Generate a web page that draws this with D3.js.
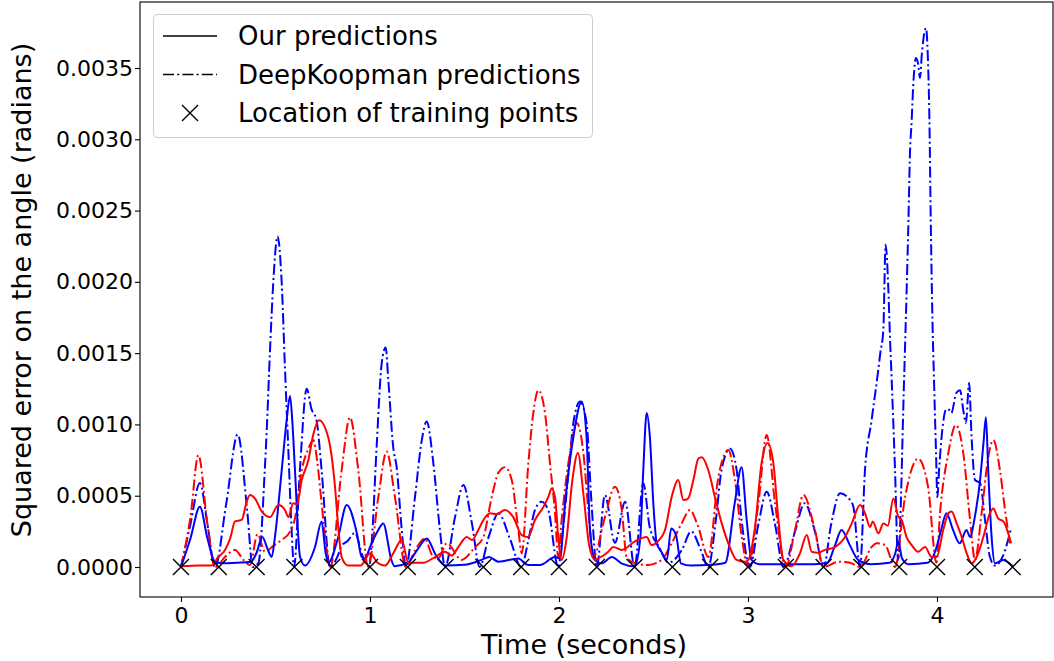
<!DOCTYPE html>
<html>
<head>
<meta charset="utf-8">
<script src="https://cdn.jsdelivr.net/npm/d3@7/dist/d3.min.js"></script>
<style>
  html, body { margin: 0; padding: 0; background: #fff; }
  svg { display: block; font-family: "DejaVu Sans", sans-serif; }
</style>
</head>
<body>
<svg id="chart" width="1054" height="661"></svg>
<script>
// Squared angle error over time, values in units of 1e-4 rad^2.
const VALUE_UNIT = 1e-4;

// Our predictions, blue run
const oursBlueT = [0,0.05,0.10,0.14,0.18,0.23,0.30,0.37,0.40,0.43,0.46,0.48,0.497,0.533,0.559,0.577,0.59,0.603,0.630,0.656,0.709,0.744,0.765,0.78,0.83,0.877,0.93,0.956,0.975,1.0,1.04,1.07,1.113,1.13,1.20,1.25,1.30,1.35,1.40,1.50,1.59,1.63,1.68,1.785,1.837,1.90,1.979,2.005,2.032,2.076,2.12,2.146,2.164,2.19,2.225,2.28,2.33,2.40,2.43,2.446,2.464,2.481,2.499,2.517,2.54,2.57,2.594,2.62,2.645,2.70,2.80,2.88,2.93,2.966,2.993,3.019,3.06,3.15,3.25,3.35,3.42,3.46,3.495,3.54,3.583,3.65,3.75,3.78,3.795,3.815,3.85,3.95,3.99,4.02,4.05,4.085,4.12,4.156,4.175,4.20,4.228,4.246,4.259,4.271,4.289,4.307,4.35,4.40];
const oursBlueV = [0,2.0,4.23,2.0,0.37,0.26,0.3,0.37,1.0,2.1,1.2,0.7,2.1,6.8,10.3,12.0,10.0,6.8,0.7,0.1,1.4,3.2,1.0,0.3,2.0,4.35,2.4,0.7,0.6,1.4,2.5,3.06,0.5,0.05,0.3,1.2,2.0,0.8,0.1,0.15,0.5,0.7,0.37,0.6,0.14,0.14,0.7,0.6,4.47,9.1,11.6,9.1,2.6,0.5,0.26,0.7,0.26,0.05,2.0,6.8,10.8,9.1,4.5,1.66,1.1,0.5,2.7,2.2,0.26,0.1,0.15,0.3,4.5,7.0,3.3,0.5,0.2,0.2,0.2,0.2,0.3,1.5,2.6,1.5,0.5,0.2,0.3,1.0,1.8,0.6,0.2,0.3,1.07,2.5,3.77,2.6,1.66,2.6,2.1,3.5,6.1,8.7,10.5,6.8,2.1,0.26,0.5,0.05];

// Our predictions, red run
const oursRedT = [0,0.10,0.16,0.197,0.233,0.26,0.286,0.321,0.348,0.365,0.392,0.427,0.471,0.515,0.55,0.568,0.594,0.614,0.639,0.674,0.70,0.730,0.779,0.815,0.832,0.85,0.885,0.95,1.0,1.04,1.08,1.123,1.168,1.203,1.28,1.344,1.397,1.432,1.467,1.512,1.54,1.573,1.60,1.635,1.67,1.714,1.758,1.803,1.836,1.873,1.917,1.943,1.961,1.979,1.996,2.014,2.04,2.07,2.10,2.13,2.16,2.19,2.208,2.261,2.287,2.332,2.402,2.464,2.49,2.53,2.561,2.596,2.631,2.658,2.683,2.711,2.737,2.755,2.79,2.825,2.861,2.896,2.94,2.984,3.002,3.037,3.072,3.104,3.134,3.161,3.187,3.231,3.275,3.311,3.337,3.37,3.407,3.46,3.513,3.549,3.593,3.619,3.646,3.66,3.69,3.716,3.74,3.769,3.796,3.813,3.839,3.866,3.90,3.937,3.972,3.998,4.033,4.06,4.077,4.104,4.131,4.157,4.184,4.21,4.245,4.28,4.298,4.324,4.351,4.377,4.392];
const oursRedV = [0.05,0.1,0.1,0.7,1.2,2.0,3.2,3.3,4.6,5.05,4.8,3.9,3.5,4.35,4.0,3.5,4.47,4.4,6.1,7.5,9.3,10.3,9.1,5.6,2.8,0.7,0.1,0.1,0.96,0.3,0.1,0.96,1.9,0.3,0.3,0.7,1.07,0.8,1.4,2.1,1.9,2.6,3.3,3.77,3.7,4.0,3.5,2.24,2.1,3.3,4.2,4.9,5.5,4.9,2.1,0.5,2.0,6.0,8.0,5.0,1.5,0.5,0.6,1.07,1.4,1.2,1.8,2.1,1.54,1.9,2.6,4.9,6.1,4.7,4.8,6.1,7.6,7.7,6.8,4.9,3.06,1.66,0.5,0.37,0.5,2.8,7.3,8.7,7.3,3.3,0.5,0.05,0.96,2.24,1.07,1.0,1.2,1.4,2.1,3.06,4.35,3.77,2.8,3.2,2.36,3.06,2.9,4.8,3.5,3.3,2.1,1.54,1.07,1.4,0.7,0.7,2.6,3.77,3.9,3.06,2.1,0.96,0.26,0.7,2.1,3.77,4.1,3.4,3.2,2.36,1.66];

// DeepKoopman predictions, blue run
const koopBlueT = [0,0.05,0.10,0.14,0.18,0.24,0.30,0.35,0.38,0.41,0.444,0.453,0.471,0.488,0.511,0.533,0.550,0.568,0.586,0.598,0.63,0.665,0.69,0.717,0.744,0.788,0.83,0.85,0.88,0.92,0.96,0.995,1.009,1.035,1.062,1.083,1.097,1.123,1.141,1.168,1.19,1.238,1.274,1.30,1.335,1.37,1.397,1.45,1.494,1.54,1.58,1.63,1.68,1.74,1.80,1.84,1.873,1.908,1.943,1.996,2.02,2.05,2.076,2.111,2.146,2.172,2.20,2.243,2.296,2.35,2.40,2.446,2.48,2.53,2.58,2.65,2.70,2.75,2.79,2.83,2.86,2.905,2.94,2.966,3.01,3.055,3.099,3.143,3.187,3.249,3.30,3.354,3.40,3.44,3.487,3.54,3.558,3.593,3.619,3.654,3.689,3.70,3.716,3.728,3.742,3.751,3.760,3.778,3.794,3.826,3.840,3.849,3.857,3.866,3.874,3.889,3.90,3.910,3.92,3.937,3.942,3.951,3.960,3.967,3.976,3.984,3.995,4.002,4.011,4.028,4.046,4.058,4.076,4.102,4.122,4.139,4.153,4.17,4.183,4.201,4.228,4.254,4.28,4.307,4.35,4.39];
const koopBlueV = [0,3.0,5.9,3.0,0,4.5,9.3,4.0,0,0.3,7.0,9.4,15.2,19.9,23.2,19.9,14.0,8.2,2.4,0,7.0,12.5,11.1,10.3,6.8,0,0.8,1.5,1.8,2.4,0.8,0,1.7,8.4,14.3,15.4,13.1,8.4,7.0,2.6,0,4.9,8.9,10.2,7.3,2.6,0,3.5,5.75,3.0,0,2.2,3.77,2.0,0,2.0,4.0,4.58,4.0,0,2.5,6.6,10.1,11.6,10.1,4.5,0,5.05,1.7,4.58,0,5.87,2.8,1.4,0.3,1.2,2.5,1.2,0,3.3,6.8,8.3,6.8,3.3,0,3.0,5.28,3.0,0,2.5,4.47,2.5,0,3.0,5.17,4.7,4.2,0,6.8,10.3,13.8,15.0,16.6,22.6,19.7,16.2,13.2,6.8,0.5,13.2,19.7,24.3,29.0,31.3,33.7,35.7,35.3,34.3,36.0,37.7,37.8,36.0,31.3,24.3,17.3,13.2,8.0,4.9,6.8,9.6,11.0,11.1,10.8,12.2,12.4,11.0,10.1,12.9,9.1,6.1,5.9,3.3,0.7,0.1,0.8,2.6];

// DeepKoopman predictions, red run
const koopRedT = [0,0.05,0.092,0.14,0.18,0.24,0.286,0.33,0.365,0.405,0.444,0.49,0.533,0.577,0.603,0.639,0.674,0.70,0.72,0.744,0.771,0.79,0.85,0.894,0.938,0.99,1.044,1.088,1.132,1.19,1.24,1.29,1.33,1.36,1.406,1.485,1.556,1.60,1.644,1.679,1.714,1.75,1.785,1.803,1.838,1.864,1.891,1.926,1.952,1.979,1.996,2.014,2.058,2.094,2.129,2.155,2.182,2.243,2.296,2.332,2.358,2.402,2.472,2.543,2.596,2.649,2.693,2.737,2.79,2.843,2.896,2.931,2.967,3.0,3.055,3.099,3.143,3.20,3.249,3.293,3.354,3.40,3.48,3.54,3.593,3.654,3.681,3.725,3.778,3.831,3.90,3.953,3.997,4.016,4.06,4.10,4.139,4.175,4.201,4.236,4.271,4.298,4.333,4.36,4.386];
const koopRedV = [0,3.5,7.85,3.0,0,0.8,1.2,0.5,0.14,2.3,1.07,1.5,1.9,2.48,3.4,6.8,8.3,8.9,7.5,4.47,1.2,0,6.8,10.5,6.8,0,4.9,8.1,4.9,0,1.2,2.0,0.8,0.6,1.66,0.5,1.4,2.1,4.9,6.6,7.0,6.1,2.6,0.96,7.3,10.8,12.4,10.8,7.3,3.8,0.7,3.3,8.0,10.1,8.0,4.0,0.7,3.5,5.63,4.0,0.7,0.26,0.14,0.5,1.66,3.06,4.0,2.8,0.7,6.3,8.2,6.1,2.1,0,4.47,9.26,4.47,0,2.6,5.05,2.6,0,0.37,0.3,0,1.4,1.66,1.54,0,4.9,7.6,5.6,0.3,3.77,8.0,9.96,8.0,3.3,0.5,3.77,7.7,8.9,6.8,4.0,1.66];

// Training sample times
const trainingT = [0,0.2,0.4,0.6,0.8,1.0,1.2,1.4,1.6,1.8,2.0,2.2,2.4,2.6,2.8,3.0,3.2,3.4,3.6,3.8,4.0,4.2,4.4];

const xTicks = [0, 1, 2, 3, 4];
const yTicks = [0, 0.0005, 0.0010, 0.0015, 0.0020, 0.0025, 0.0030, 0.0035];

const legendLabels = ["Our predictions", "DeepKoopman predictions", "Location of training points"];

const series = [
  { t: koopBlueT, v: koopBlueV, color: "#0000ff", dash: true },
  { t: koopRedT,  v: koopRedV,  color: "#ff0000", dash: true },
  { t: oursBlueT, v: oursBlueV, color: "#0000ff", dash: false },
  { t: oursRedT,  v: oursRedV,  color: "#ff0000", dash: false }
];

const plot = { left: 140, right: 1053, top: 2, bottom: 597 };
const DASH = "11,3.2,2,3.2";

const x = d3.scaleLinear().domain([-0.2169, 4.6138]).range([plot.left, plot.right]);
const y = d3.scaleLinear().domain([-0.0002104, 0.003963]).range([plot.bottom, plot.top]);

const svg = d3.select("#chart");
svg.append("rect").attr("width", 1054).attr("height", 661).attr("fill", "#fff");

svg.append("defs").append("clipPath").attr("id", "plotClip")
  .append("rect")
  .attr("x", plot.left).attr("y", plot.top)
  .attr("width", plot.right - plot.left).attr("height", plot.bottom - plot.top);

const line = d3.line()
  .x(d => x(d[0]))
  .y(d => y(d[1] * VALUE_UNIT))
  .curve(d3.curveMonotoneX);

const lines = svg.append("g").attr("clip-path", "url(#plotClip)");
series.forEach(s => {
  lines.append("path")
    .datum(s.t.map((t, i) => [t, s.v[i]]))
    .attr("d", line)
    .attr("fill", "none")
    .attr("stroke", s.color)
    .attr("stroke-width", 2)
    .attr("stroke-linejoin", "round")
    .attr("stroke-dasharray", s.dash ? DASH : null);
});

// Training point crosses
const crossPath = "M-8,-8L8,8M-8,8L8,-8";
svg.append("g").selectAll("path")
  .data(trainingT)
  .join("path")
  .attr("d", crossPath)
  .attr("transform", t => `translate(${x(t)},${y(0)})`)
  .attr("stroke", "#000")
  .attr("stroke-width", 1.4)
  .attr("fill", "none");

// Axes
const xAxis = d3.axisBottom(x).tickValues(xTicks).tickFormat(d3.format("d")).tickSize(5).tickPadding(5);
const yAxis = d3.axisLeft(y).tickValues(yTicks).tickFormat(d3.format(".4f")).tickSize(5).tickPadding(2);

const gx = svg.append("g").attr("transform", `translate(0,${plot.bottom})`).call(xAxis);
const gy = svg.append("g").attr("transform", `translate(${plot.left},0)`).call(yAxis);
[gx, gy].forEach(g => {
  g.select(".domain").remove();
  g.selectAll(".tick line").attr("stroke", "#000").attr("stroke-width", 1.1);
  g.selectAll(".tick text").attr("fill", "#000")
    .style("font-family", "DejaVu Sans").style("font-size", "22px");
});

// Frame
svg.append("rect")
  .attr("x", plot.left).attr("y", plot.top)
  .attr("width", plot.right - plot.left).attr("height", plot.bottom - plot.top)
  .attr("fill", "none").attr("stroke", "#000").attr("stroke-width", 1.1);

// Axis titles
svg.append("text")
  .attr("x", 584).attr("y", 654)
  .attr("text-anchor", "middle")
  .style("font-size", "27px")
  .text("Time (seconds)");

svg.append("text")
  .attr("transform", `translate(31,290) rotate(-90)`)
  .attr("text-anchor", "middle")
  .style("font-size", "27px")
  .text("Squared error on the angle (radians)");

// Legend
const lg = svg.append("g");
lg.append("rect")
  .attr("x", 153.5).attr("y", 14.5).attr("width", 439).attr("height", 123).attr("rx", 4)
  .attr("fill", "#fff").attr("fill-opacity", 0.8)
  .attr("stroke", "#cccccc").attr("stroke-width", 1);
const rowY = [36, 74.5, 113];
lg.append("line").attr("x1", 163).attr("x2", 217).attr("y1", rowY[0]).attr("y2", rowY[0])
  .attr("stroke", "#000").attr("stroke-width", 1.5);
lg.append("line").attr("x1", 163).attr("x2", 217).attr("y1", rowY[1]).attr("y2", rowY[1])
  .attr("stroke", "#000").attr("stroke-width", 1.5).attr("stroke-dasharray", DASH);
lg.append("path").attr("d", crossPath).attr("transform", `translate(190,${rowY[2]})`)
  .attr("stroke", "#000").attr("stroke-width", 1.4).attr("fill", "none");
lg.selectAll("text.lbl").data(legendLabels).join("text")
  .attr("class", "lbl")
  .attr("x", 238).attr("y", (d, i) => rowY[i])
  .attr("dy", "0.35em")
  .style("font-size", "26px")
  .text(d => d);
</script>
</body>
</html>
